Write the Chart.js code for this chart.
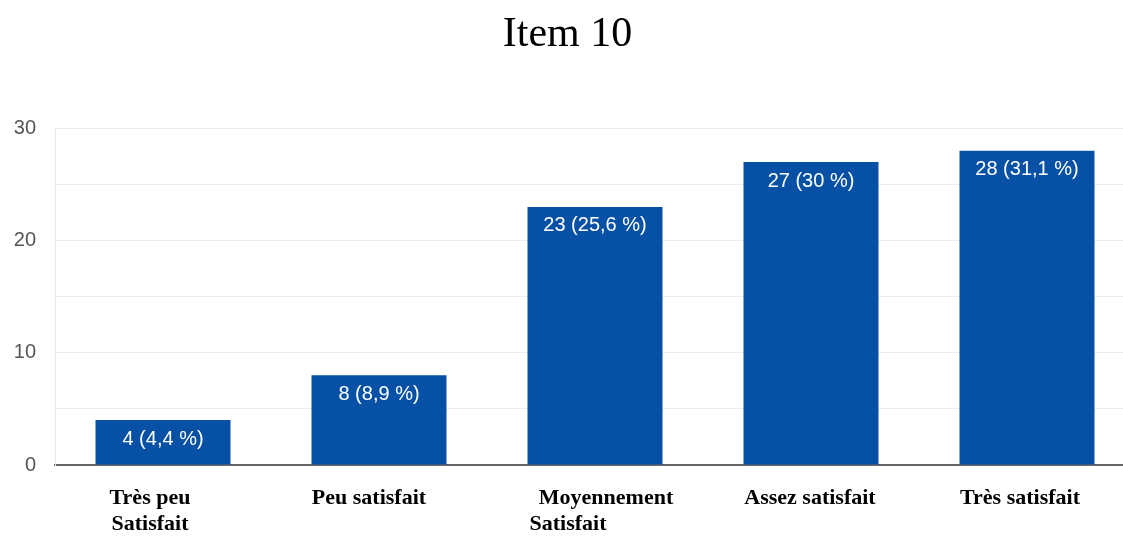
<!DOCTYPE html>
<html>
<head>
<meta charset="utf-8">
<script src="https://cdn.jsdelivr.net/npm/chart.js@4/dist/chart.umd.min.js"></script>
<style>
  html, body { margin: 0; padding: 0; background: #ffffff; overflow: hidden; }
  #wrap { width: 1123px; height: 536px; overflow: hidden; }
</style>
</head>
<body>
<div id="wrap"><canvas id="c" width="1138" height="536"></canvas></div>
<script>
// Response categories (multi-line labels)
const categories = [
  ['Très peu', 'Satisfait'],
  ['Peu satisfait'],
  ['Moyennement', 'Satisfait'],
  ['Assez satisfait'],
  ['Très satisfait']
];
// Number of respondents per category
const counts = [4, 8, 23, 27, 28];
// Share of respondents, as printed in the labels
const percentLabels = ['4,4', '8,9', '25,6', '30', '31,1'];
// Value axis ticks
const yTicks = [0, 10, 20, 30];

const barColor = '#0651a6';
const serifBold = 'bold 22px "Liberation Serif", "Times New Roman", serif';

// Horizontal nudges of each category label line, relative to the bar centre
const labelLineShift = [[-13, -13], [-10], [11, -27], [-1], [-7]];

// Writes "n (p %)" inside the top of each bar
const barValueLabels = {
  id: 'barValueLabels',
  afterDatasetsDraw(chart) {
    const ctx = chart.ctx;
    const meta = chart.getDatasetMeta(0);
    ctx.save();
    ctx.font = '20px "Liberation Sans", Arial, sans-serif';
    ctx.fillStyle = '#ffffff';
    ctx.textAlign = 'center';
    ctx.textBaseline = 'middle';
    meta.data.forEach((bar, i) => {
      const text = counts[i] + ' (' + percentLabels[i] + ' %)';
      ctx.fillText(text, bar.x, bar.y + 19);
    });
    ctx.restore();
  }
};

// Category names under the axis, in bold serif
const categoryLabels = {
  id: 'categoryLabels',
  afterDraw(chart) {
    const ctx = chart.ctx;
    const xs = chart.scales.x;
    const top = chart.chartArea.bottom;
    ctx.save();
    ctx.font = serifBold;
    ctx.fillStyle = '#000000';
    ctx.textAlign = 'center';
    ctx.textBaseline = 'middle';
    categories.forEach((lines, i) => {
      const cx = xs.getPixelForValue(i);
      lines.forEach((line, j) => {
        const dx = (labelLineShift[i] && labelLineShift[i][j]) || 0;
        ctx.fillText(line, cx + dx, top + 33 + j * 26);
      });
    });
    ctx.restore();
  }
};

new Chart(document.getElementById('c'), {
  type: 'bar',
  data: {
    labels: categories,
    datasets: [{
      data: counts,
      backgroundColor: barColor,
      borderWidth: 0,
      barPercentage: 0.625,
      categoryPercentage: 1.0
    }]
  },
  options: {
    responsive: false,
    animation: false,
    layout: { padding: { left: 0, right: 3, top: 0, bottom: 0 } },
    plugins: {
      legend: { display: false },
      tooltip: { enabled: false },
      title: {
        display: true,
        text: 'Item 10',
        color: '#000000',
        font: { family: '"Liberation Serif", "Times New Roman", serif', size: 42, weight: 'normal' },
        padding: { top: 10, bottom: 68 }
      }
    },
    scales: {
      x: {
        grid: { display: false },
        border: { display: true, color: '#666666', width: 2 },
        ticks: { display: false },
        afterFit(scale) { scale.height = 71; }
      },
      y: {
        min: 0,
        max: 30,
        grid: { color: '#ececec', lineWidth: 1, drawTicks: false },
        border: { display: true, color: '#e6e6e6', width: 1 },
        ticks: {
          stepSize: 5,
          color: '#555555',
          font: { family: '"Liberation Sans", Arial, sans-serif', size: 20 },
          padding: 19,
          callback: (v) => (yTicks.includes(v) ? String(v) : '')
        },
        afterFit(scale) { scale.width = 55; }
      }
    }
  },
  plugins: [barValueLabels, categoryLabels]
});
</script>
</body>
</html>
